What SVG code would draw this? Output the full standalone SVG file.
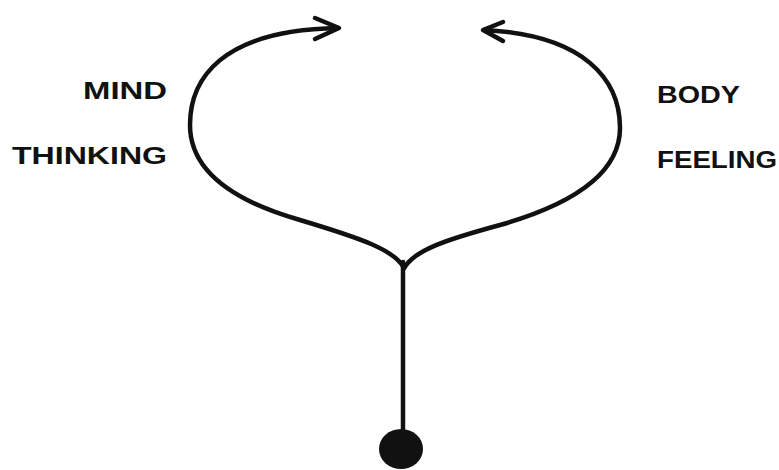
<svg xmlns="http://www.w3.org/2000/svg" width="779" height="470" viewBox="0 0 779 470">
<style>
.ln{fill:none;stroke:#111;stroke-width:4.5;stroke-linecap:round;stroke-linejoin:round}
.lbl{font-family:"Liberation Sans",Arial,sans-serif;font-weight:bold;font-size:23px;fill:#111}
</style>
<rect width="779" height="470" fill="#fff"/>
<g id="connectors">
<path class="ln" d="M404 268 C395 250 360 238 300 220 C230 200 190 170 190 125 C190 80 220 30 338 28"/>
<path class="ln" d="M315 18 L339 28 L315 39"/>
<path class="ln" d="M404 268 C415 250 445 240 500 225 C570 205 620 175 620 128 C620 80 585 35 484 30"/>
<path class="ln" d="M503 22 L483 30 L503 41"/>
<path class="ln" d="M403 262 L403 435"/>
</g>
<g id="ball"><ellipse cx="401" cy="449" rx="22" ry="20" fill="#111"/></g>
<g id="mind"><text class="lbl" x="83" y="99" textLength="84" lengthAdjust="spacingAndGlyphs">MIND</text></g>
<g id="thinking"><text class="lbl" x="12" y="164" textLength="155" lengthAdjust="spacingAndGlyphs">THINKING</text></g>
<g id="body"><text class="lbl" x="657" y="103" textLength="83" lengthAdjust="spacingAndGlyphs">BODY</text></g>
<g id="feeling"><text class="lbl" x="657" y="168" textLength="120" lengthAdjust="spacingAndGlyphs">FEELING</text></g>
</svg>
